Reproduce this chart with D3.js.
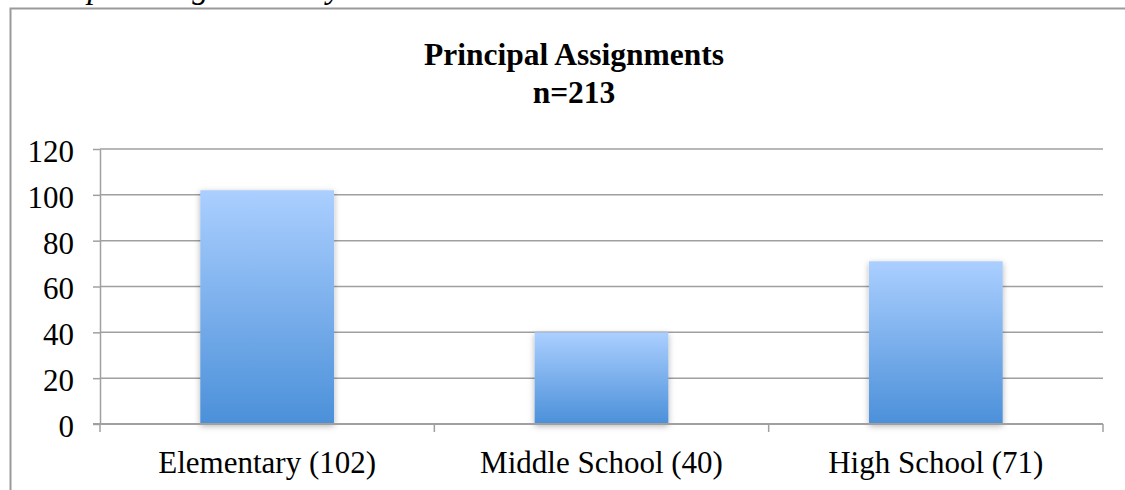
<!DOCTYPE html>
<html lang="en">
<head>
<meta charset="utf-8">
<script src="https://cdnjs.cloudflare.com/ajax/libs/d3/7.8.5/d3.min.js"></script>
<style>
  html, body { margin: 0; padding: 0; background: #fff; }
  svg { display: block; }
</style>
</head>
<body>
<div id="chart"></div>
<script>
// chart data
var categories = ["Elementary (102)", "Middle School (40)", "High School (71)"];
var values = [102, 40, 71];
var yTicks = [0, 20, 40, 60, 80, 100, 120];
var titleLines = ["Principal Assignments", "n=213"];
var captionText = "Principal Assignments by School Level";

(function() {
    var width = 1125;
    var height = 490;
    var serif = "'Liberation Serif'";

    var svg = d3.select("#chart")
        .append("svg")
        .attr("width", width)
        .attr("height", height);

    // gradient + soft shadow for the bars
    var defs = svg.append("defs");
    var grad = defs.append("linearGradient")
        .attr("id", "barGrad")
        .attr("x1", 0).attr("y1", 0).attr("x2", 0).attr("y2", 1);
    grad.append("stop").attr("offset", "0%").attr("stop-color", "#abcfff");
    grad.append("stop").attr("offset", "100%").attr("stop-color", "#4b90d9");

    var shadow = defs.append("filter")
        .attr("id", "barShadow")
        .attr("x", "-20%").attr("y", "-10%")
        .attr("width", "140%").attr("height", "130%");
    shadow.append("feDropShadow")
        .attr("dx", 0).attr("dy", 2)
        .attr("stdDeviation", 3)
        .attr("flood-color", "#000")
        .attr("flood-opacity", 0.3);

    // caption cut off at the top of the page
    svg.append("text")
        .attr("x", 5)
        .attr("y", -2)
        .style("font-family", serif)
        .style("font-size", "33px")
        .style("font-style", "italic")
        .text(captionText);

    // chart frame (runs off to the right and bottom)
    svg.append("rect")
        .attr("x", 10.5)
        .attr("y", 8.5)
        .attr("width", 1300)
        .attr("height", 700)
        .attr("fill", "none")
        .attr("stroke", "#9a9a9a")
        .attr("stroke-width", 2);

    // title
    svg.selectAll(".title")
        .data(titleLines)
        .enter().append("text")
        .attr("class", "title")
        .attr("x", 574)
        .attr("y", function(d, i) { return 65 + i * 38; })
        .attr("text-anchor", "middle")
        .style("font-family", serif)
        .style("font-size", "31.5px")
        .style("font-weight", "bold")
        .text(function(d) { return d; });

    var left = 100, right = 1103, top = 149, bottom = 424;

    var y = d3.scaleLinear().domain([0, 120]).range([bottom, top]);

    // bars: gap width 150% -> bar is 40% of a category
    var x = d3.scaleBand()
        .domain(categories)
        .range([left, right])
        .paddingInner(0.6)
        .paddingOuter(0.3);

    // category slots (for tick marks and labels)
    var slot = d3.scaleBand()
        .domain(categories)
        .range([left, right])
        .padding(0);

    var lineColor = "#a0a0a0";

    // gridlines
    svg.append("g")
        .selectAll("line")
        .data(yTicks.filter(function(d) { return d > 0; }))
        .enter().append("line")
        .attr("x1", left)
        .attr("x2", right)
        .attr("y1", function(d) { return y(d); })
        .attr("y2", function(d) { return y(d); })
        .attr("stroke", lineColor)
        .attr("stroke-width", 1.5);

    // y axis
    var yAxis = svg.append("g")
        .attr("transform", "translate(" + left + ",0)")
        .call(d3.axisLeft(y).tickValues(yTicks).tickSize(7).tickPadding(19).tickSizeOuter(0));
    yAxis.select(".domain").attr("stroke", lineColor).attr("stroke-width", 1.5);
    yAxis.selectAll(".tick line").attr("stroke", lineColor).attr("stroke-width", 1.5);
    yAxis.selectAll(".tick text")
        .attr("fill", "#000")
        .attr("dy", "0.4em")
        .style("font-family", serif)
        .style("font-size", "31px");

    // bars
    svg.append("g")
        .selectAll("rect")
        .data(values)
        .enter().append("rect")
        .attr("x", function(d, i) { return x(categories[i]); })
        .attr("y", function(d) { return y(d); })
        .attr("width", x.bandwidth())
        .attr("height", function(d) { return y(0) - y(d); })
        .attr("fill", "url(#barGrad)")
        .attr("filter", "url(#barShadow)");

    // x axis line
    svg.append("line")
        .attr("x1", left - 7)
        .attr("x2", right)
        .attr("y1", bottom)
        .attr("y2", bottom)
        .attr("stroke", lineColor)
        .attr("stroke-width", 2);

    // x tick marks at category boundaries
    var bounds = categories.map(function(c) { return slot(c); }).concat([right]);
    svg.append("g")
        .selectAll("line")
        .data(bounds)
        .enter().append("line")
        .attr("x1", function(d) { return d; })
        .attr("x2", function(d) { return d; })
        .attr("y1", bottom)
        .attr("y2", bottom + 8)
        .attr("stroke", lineColor)
        .attr("stroke-width", 1.5);

    // category labels
    svg.append("g")
        .selectAll("text")
        .data(categories)
        .enter().append("text")
        .attr("x", function(d) { return slot(d) + slot.bandwidth() / 2; })
        .attr("y", bottom + 49)
        .attr("text-anchor", "middle")
        .style("font-family", serif)
        .style("font-size", "31px")
        .text(function(d) { return d; });
})();
</script>
</body>
</html>
